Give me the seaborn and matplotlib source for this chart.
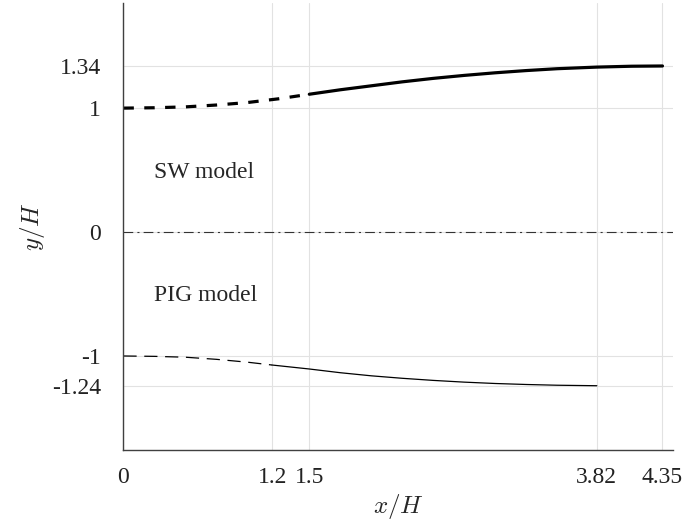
import matplotlib
matplotlib.use("Agg")
import matplotlib.pyplot as plt
import seaborn as sns
import pandas as pd

# Free-surface profiles y/H against x/H for the two models
sw_x = [0.0, 0.25, 0.5, 0.75, 1.0, 1.25, 1.5, 1.75, 2.0, 2.25, 2.5, 2.75,
        3.0, 3.25, 3.5, 3.82, 4.1, 4.35]
sw_y = [1.0, 1.003, 1.01, 1.025, 1.045, 1.075, 1.112, 1.148, 1.18, 1.212,
        1.24, 1.264, 1.285, 1.303, 1.318, 1.331, 1.338, 1.34]
sw_break = 1.5

pig_x = [0.0, 0.25, 0.5, 0.75, 1.0, 1.2, 1.5, 1.75, 2.0, 2.25, 2.5, 2.75,
         3.0, 3.25, 3.5, 3.82]
pig_y = [-1.0, -1.003, -1.01, -1.027, -1.05, -1.073, -1.105, -1.135, -1.16,
         -1.18, -1.197, -1.211, -1.222, -1.23, -1.236, -1.24]
pig_break = 1.2

x_ticks = [0, 1.2, 1.5, 3.82, 4.35]
x_tick_labels = ["0", "1.2", "1.5", "3.82", "4.35"]
y_ticks = [-1.24, -1, 0, 1, 1.34]
y_tick_labels = ["-1.24", "-1", "0", "1", "1.34"]

sw = pd.DataFrame({"x": sw_x, "y": sw_y})
pig = pd.DataFrame({"x": pig_x, "y": pig_y})

sns.set_theme(style="white")
plt.rcParams["font.family"] = ["Liberation Serif", "DejaVu Serif"]
plt.rcParams["mathtext.fontset"] = "cm"
plt.rcParams["axes.unicode_minus"] = False
plt.rcParams["lines.scale_dashes"] = False

fig = plt.figure(figsize=(6.82, 5.25), dpi=100)
ax = fig.add_axes([0.181, 0.143, 0.806, 0.851])

# SW model: dashed up to the break point, solid after it
sns.lineplot(data=sw[sw.x <= sw_break], x="x", y="y", ax=ax, color="black",
             lw=2.3, linestyle=(0, (7.5, 7.5)), errorbar=None)
sns.lineplot(data=sw[sw.x >= sw_break], x="x", y="y", ax=ax, color="black",
             lw=2.3, linestyle="-", errorbar=None)

# PIG model: thin line, same dashed/solid split
sns.lineplot(data=pig[pig.x <= pig_break], x="x", y="y", ax=ax, color="black",
             lw=0.9, linestyle=(0, (9.5, 5.5)), errorbar=None)
sns.lineplot(data=pig[pig.x >= pig_break], x="x", y="y", ax=ax, color="black",
             lw=0.9, linestyle="-", errorbar=None)

# Centre line
ax.axhline(0, color="#333333", lw=0.8, linestyle=(0, (7, 3, 1.5, 3)), zorder=1)

ax.text(0.25, 0.48, "SW model", fontsize=17, va="center", ha="left")
ax.text(0.25, -0.51, "PIG model", fontsize=17, va="center", ha="left")

ax.set_xlim(0, 4.436)
ax.set_ylim(-1.758, 1.847)
ax.set_xticks(x_ticks)
ax.set_xticklabels(x_tick_labels)
ax.set_yticks(y_ticks)
ax.set_yticklabels(y_tick_labels)

ax.grid(True, color="#e2e2e2", lw=0.8)
ax.set_axisbelow(True)
for side in ("top", "right"):
    ax.spines[side].set_visible(False)
for side in ("left", "bottom"):
    ax.spines[side].set_color("#404040")
    ax.spines[side].set_linewidth(1.0)

ax.tick_params(axis="both", direction="in", length=5, width=0.8,
               color="#404040", labelsize=17, labelcolor="#222222")
ax.tick_params(axis="x", pad=12)
ax.tick_params(axis="y", pad=16)

ax.set_xlabel("$x/H$", fontsize=18, labelpad=3)
ax.set_ylabel("$y/H$", fontsize=18, labelpad=4)

fig.savefig("out.png", dpi=100)
